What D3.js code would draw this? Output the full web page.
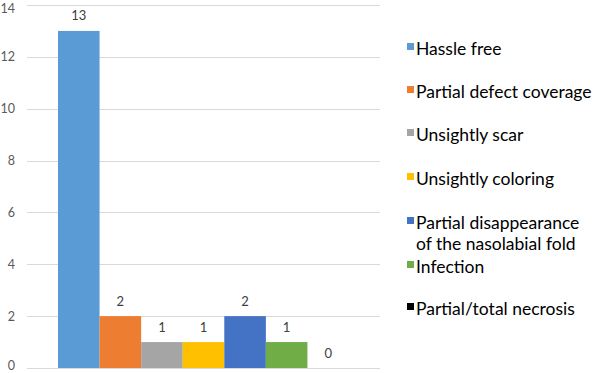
<!DOCTYPE html>
<html>
<head>
<meta charset="utf-8">
<script src="https://cdn.jsdelivr.net/npm/d3@7"></script>
<style>
  body { margin: 0; background: #fff; }
  text { font-family: Lato, "Open Sans", sans-serif; }
</style>
</head>
<body>
<div id="chart"></div>
<script>
// chart data
var categories = ["Hassle free", "Partial defect coverage", "Unsightly scar", "Unsightly coloring",
                  "Partial disappearance of the nasolabial fold", "Infection", "Partial/total necrosis"];
var values = [13, 2, 1, 1, 2, 1, 0];
var colors = ["#5B9BD5", "#ED7D31", "#A5A5A5", "#FFC000", "#4472C4", "#70AD47", "#000000"];
var yTicks = [0, 2, 4, 6, 8, 10, 12, 14];
// legend text lines (wrapped like the original)
var legendLines = [["Hassle free"], ["Partial defect coverage"], ["Unsightly scar"], ["Unsightly coloring"],
                   ["Partial disappearance", "of the nasolabial fold"], ["Infection"], ["Partial/total necrosis"]];

var svgWidth = 600;
var svgHeight = 373;

var plot = { left: 27, right: 380, top: 5, bottom: 368 };

var svg = d3.select("#chart")
  .append("svg")
  .attr("width", svgWidth)
  .attr("height", svgHeight);

var yScale = d3.scaleLinear()
  .domain([0, 14])
  .range([plot.bottom, plot.top]);

// bars sit together in the middle of the plot
var groupPad = 31;
var xScale = d3.scaleBand()
  .domain(categories)
  .range([plot.left + groupPad, plot.right - groupPad])
  .padding(0);

// gridlines
svg.append("g")
  .selectAll("line")
  .data(yTicks)
  .enter()
  .append("line")
  .attr("x1", plot.left)
  .attr("x2", plot.right)
  .attr("y1", d => Math.round(yScale(d)) + 0.5)
  .attr("y2", d => Math.round(yScale(d)) + 0.5)
  .attr("stroke", "#d9d9d9")
  .attr("stroke-width", 1);

// y tick labels (kept just inside the top/bottom edge)
svg.append("g")
  .selectAll("text")
  .data(yTicks)
  .enter()
  .append("text")
  .attr("x", 15)
  .attr("y", d => Math.max(12.5, Math.min(370, yScale(d) + 4.5)))
  .attr("text-anchor", "end")
  .style("font-size", "12.5px")
  .style("fill", "#595959")
  .text(d => d);

// bars
svg.append("g")
  .selectAll("rect")
  .data(values)
  .enter()
  .append("rect")
  .attr("x", (d, i) => xScale(categories[i]))
  .attr("y", d => yScale(d))
  .attr("width", xScale.bandwidth())
  .attr("height", d => yScale(0) - yScale(d))
  .attr("fill", (d, i) => colors[i]);

// value labels
svg.append("g")
  .selectAll("text")
  .data(values)
  .enter()
  .append("text")
  .attr("x", (d, i) => xScale(categories[i]) + xScale.bandwidth() / 2)
  .attr("y", d => yScale(d) - 10.5)
  .attr("text-anchor", "middle")
  .style("font-size", "13px")
  .style("fill", "#404040")
  .text(d => d);

// legend
var legendY = [55, 98, 141, 185, 229, 273, 315];
var legend = svg.append("g");
legendLines.forEach(function(lines, i) {
  legend.append("rect")
    .attr("x", 407)
    .attr("y", legendY[i] - 12)
    .attr("width", 7)
    .attr("height", 7)
    .attr("fill", colors[i]);
  lines.forEach(function(line, j) {
    legend.append("text")
      .attr("x", 416)
      .attr("y", legendY[i] + j * 21)
      .style("font-size", "17.5px")
      .style("fill", "#000")
      .text(line);
  });
});
</script>
</body>
</html>
